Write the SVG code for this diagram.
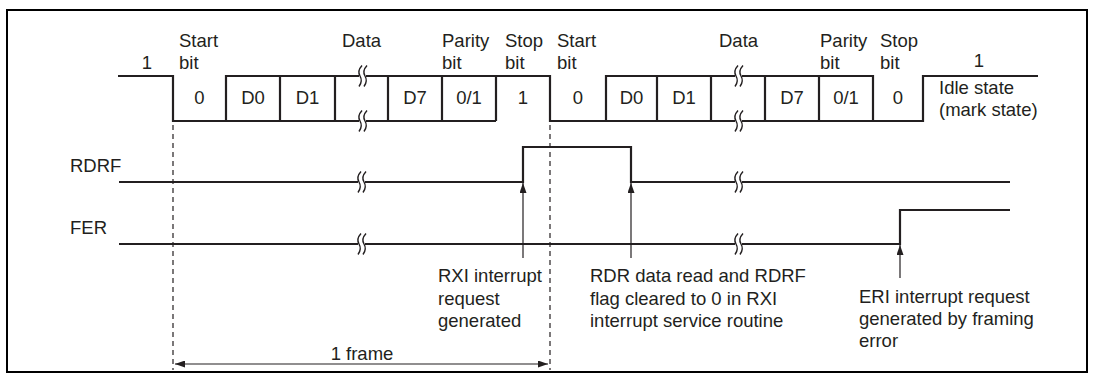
<svg xmlns="http://www.w3.org/2000/svg" width="1096" height="383" viewBox="0 0 1096 383">
<style>
text{font-family:"Liberation Sans",Arial,sans-serif;font-size:18.5px;fill:#231f20}
.mid{text-anchor:middle}
.w{fill:none;stroke:#231f20;stroke-width:2.2;stroke-linejoin:miter}
.thin{fill:none;stroke:#231f20;stroke-width:1.2}
.dash{fill:none;stroke:#231f20;stroke-width:1.2;stroke-dasharray:5 4}
</style>
<defs>
<g id="brk">
<rect x="-3" y="-3" width="7" height="6" fill="#fff"/>
<path d="M0,-10.5 Q-5,-5 -2,0 Q1,5 -3,10.5 M5,-10.5 Q0,-5 3,0 Q6,5 2,10.5" fill="none" stroke="#231f20" stroke-width="1.4"/>
</g>
<marker id="ah" markerUnits="userSpaceOnUse" markerWidth="12" markerHeight="8" refX="10" refY="3.5" orient="auto">
<path d="M0,0 L10,3.5 L0,7 Z" fill="#231f20"/>
</marker>
<marker id="ahs" markerUnits="userSpaceOnUse" markerWidth="12" markerHeight="8" refX="0" refY="3.5" orient="auto">
<path d="M10,0 L0,3.5 L10,7 Z" fill="#231f20"/>
</marker>
</defs>
<rect id="border" x="7" y="10" width="1080" height="362" fill="none" stroke="#000" stroke-width="2"/>
<g id="rxd-waveform">
<path class="w" d="M118,76 H173 V121 H496 M226,121 V76 H550 V121 H923 V76 H1038 M606,121 V76 H873 V121"/>
<path class="w" d="M280,76 V121 M335,76 V121 M388,76 V121 M442,76 V121 M496,76 V121 M657,76 V121 M711,76 V121 M765,76 V121 M819,76 V121"/>
<use href="#brk" x="362" y="76"/>
<use href="#brk" x="362" y="121"/>
<use href="#brk" x="738" y="76"/>
<use href="#brk" x="738" y="121"/>
</g>
<g id="rdrf">
<text x="70" y="172">RDRF</text>
<path class="w" d="M119,182 H523 V147 H631 V182 H1010"/>
<use href="#brk" x="361" y="182"/>
<use href="#brk" x="738" y="182"/>
</g>
<g id="fer">
<text x="70" y="234">FER</text>
<path class="w" d="M119,244 H900 V210 H1010"/>
<use href="#brk" x="361" y="244"/>
<use href="#brk" x="738" y="244"/>
</g>
<g id="bit-labels">
<text x="147" y="69" class="mid">1</text>
<text x="179" y="47">Start</text><text x="179" y="69">bit</text>
<text x="342" y="47">Data</text>
<text x="442" y="47">Parity</text><text x="442" y="69">bit</text>
<text x="505" y="47">Stop</text><text x="505" y="69">bit</text>
<text x="557" y="47">Start</text><text x="557" y="69">bit</text>
<text x="719" y="47">Data</text>
<text x="820" y="47">Parity</text><text x="820" y="69">bit</text>
<text x="880" y="47">Stop</text><text x="880" y="69">bit</text>
<text x="979" y="67" class="mid">1</text>
<text x="939" y="94">Idle state</text>
<text x="939" y="116">(mark state)</text>
</g>
<g id="cell-values">
<text x="199.5" y="104" class="mid">0</text>
<text x="253" y="104" class="mid">D0</text>
<text x="307.5" y="104" class="mid">D1</text>
<text x="415" y="104" class="mid">D7</text>
<text x="469" y="104" class="mid">0/1</text>
<text x="523" y="104" class="mid">1</text>
<text x="578" y="104" class="mid">0</text>
<text x="631.5" y="104" class="mid">D0</text>
<text x="684" y="104" class="mid">D1</text>
<text x="792" y="104" class="mid">D7</text>
<text x="846" y="104" class="mid">0/1</text>
<text x="898" y="104" class="mid">0</text>
</g>
<g id="connectors">
<path class="dash" d="M173,125 V370 M550,125 V370"/>
<line class="thin" x1="523" y1="258" x2="523" y2="183" marker-end="url(#ah)"/>
<line class="thin" x1="631" y1="258" x2="631" y2="183" marker-end="url(#ah)"/>
<line class="thin" x1="900" y1="278" x2="900" y2="245" marker-end="url(#ah)"/>
<line class="thin" x1="175" y1="364" x2="548" y2="364" marker-start="url(#ahs)" marker-end="url(#ah)"/>
</g>
<g id="annotations">
<text x="438" y="282">RXI interrupt</text>
<text x="438" y="304.5">request</text>
<text x="438" y="327">generated</text>
<text x="590" y="282">RDR data read and RDRF</text>
<text x="590" y="304.5">flag cleared to 0 in RXI</text>
<text x="590" y="327">interrupt service routine</text>
<text x="859" y="303">ERI interrupt request</text>
<text x="859" y="325">generated by framing</text>
<text x="859" y="347">error</text>
<text x="362" y="360" class="mid">1 frame</text>
</g>
</svg>
